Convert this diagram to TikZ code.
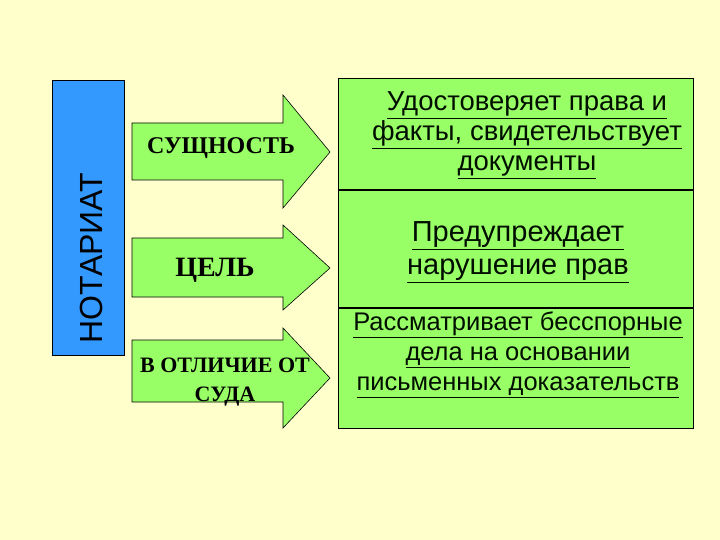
\documentclass[tikz,border=0pt]{standalone}
\usepackage{fontspec}
\setmainfont{Liberation Serif}
\newfontfamily\sans{Liberation Sans}
\begin{document}
\begin{tikzpicture}[x=1pt,y=-1pt,
  arr/.style={draw=black,line width=0.6pt},
  box/.style={draw=black,line width=0.8pt},
  rt/.style={align=center,text=black!80!green!30!black},
  lt/.style={align=center,inner sep=0pt}]
\definecolor{bg}{HTML}{FFFFCC}
\definecolor{gr}{HTML}{99FF66}
\definecolor{bl}{HTML}{3399FF}
\tikzset{arr/.append style={fill=gr},box/.append style={fill=gr}}
\fill[bg] (0,0) rectangle (720,540);
\useasboundingbox (0,0) rectangle (720,540);
\node[draw=black,fill=bl,minimum width=72,minimum height=275,anchor=north west,line width=0.6pt] (blue) at (52,80) {};
\node[rotate=90,font=\sans\fontsize{32}{33}\selectfont,inner sep=0pt] (nt) at (91,258) {НОТАРИАТ};
\draw[arr] (132,123) -- (283,123) -- (283,95) -- (330,152) -- (283,208) -- (283,180) -- (132,180) -- cycle;
\draw[arr] (132,238) -- (283,238) -- (283,225) -- (330,268) -- (283,310) -- (283,297) -- (132,297) -- cycle;
\draw[arr] (132,340) -- (283,340) -- (283,328) -- (330,378) -- (283,428) -- (283,402) -- (132,402) -- cycle;
\node[lt,font=\bfseries\fontsize{24}{25}\selectfont] (a1) at (221,148) {СУЩНОСТЬ};
\node[lt,font=\bfseries\fontsize{28}{30}\selectfont] (a2) at (215,270) {ЦЕЛЬ};
\node[lt,font=\bfseries\fontsize{22}{29}\selectfont] (a3) at (225,382) {В ОТЛИЧИЕ ОТ\\СУДА};
\node[box,minimum width=355,minimum height=350,anchor=north west] (r) at (338,78) {};
\draw[line width=2pt] (338,190) -- (693,190);
\draw[line width=2pt] (338,308) -- (693,308);
\node[rt,font=\sans\fontsize{27.5}{30}\selectfont] (t1) at (527,135) {\underline{Удостоверяет права и}\\\underline{факты, свидетельствует}\\\underline{документы}};
\node[rt,font=\sans\fontsize{29}{33}\selectfont] (t2) at (518,252) {\underline{Предупреждает}\\\underline{нарушение прав}};
\node[rt,font=\sans\fontsize{25.5}{30}\selectfont] (t3) at (518,355) {\underline{Рассматривает бесспорные}\\\underline{дела на основании}\\\underline{письменных доказательств}};
\end{tikzpicture}
\end{document}
